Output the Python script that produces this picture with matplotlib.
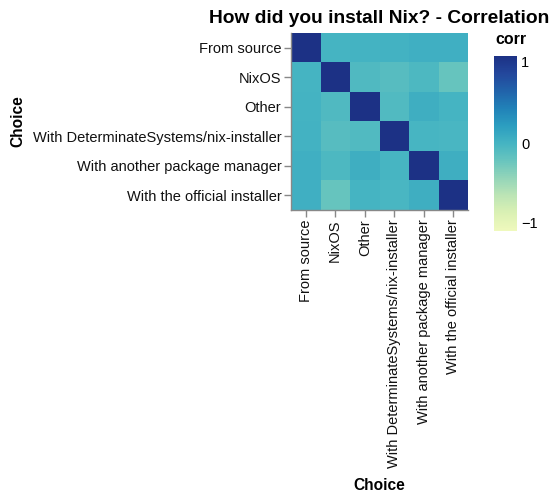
import matplotlib
matplotlib.use('Agg')
import matplotlib.pyplot as plt
import numpy as np
from matplotlib.colors import LinearSegmentedColormap

plt.rcParams['font.family'] = ['Liberation Sans', 'DejaVu Sans']

# Choices (same order on both axes)
choices = ['From source', 'NixOS', 'Other', 'With DeterminateSystems/nix-installer',
           'With another package manager', 'With the official installer']

# Correlation rows
row_from_source = [1.00, 0.00, 0.01, 0.02, 0.04, 0.04]
row_nixos       = [0.00, 1.00, -0.06, -0.10, -0.04, -0.18]
row_other       = [0.01, -0.06, 1.00, -0.07, 0.05, 0.00]
row_determinate = [0.02, -0.10, -0.07, 1.00, -0.01, -0.02]
row_another_pm  = [0.04, -0.04, 0.05, -0.01, 1.00, 0.05]
row_official    = [0.04, -0.18, 0.00, -0.02, 0.05, 1.00]

corr = np.array([row_from_source, row_nixos, row_other,
                 row_determinate, row_another_pm, row_official])

# vega "yellowgreenblue" scheme
ygb = ['#eff9bd', '#dbf1b4', '#bde5b5', '#94d5b9', '#69c5be', '#45b4c2',
       '#2c9ec0', '#2182b8', '#2163aa', '#23479c', '#1c3185']
cmap = LinearSegmentedColormap.from_list('yellowgreenblue', ygb)

fig = plt.figure(figsize=(5.57, 5.0), dpi=100)
ax = fig.add_axes([291/557, 1 - 210/500, 177/557, 177/500])

n = len(choices)
mesh = ax.pcolormesh(np.arange(n + 1), np.arange(n + 1), corr, cmap=cmap,
                     vmin=-1, vmax=1)
ax.set_xlim(0, n)
ax.set_ylim(n, 0)

ax.set_xticks(np.arange(n) + 0.5)
ax.set_yticks(np.arange(n) + 0.5)
ax.set_xticklabels(choices, rotation=90, fontsize=10.5, color='#111111')
ax.set_yticklabels(choices, fontsize=10.5, color='#111111')
ax.tick_params(axis='both', length=5, width=1, color='#888888', pad=2)

for s in ['top', 'right']:
    ax.spines[s].set_visible(False)
for s in ['left', 'bottom']:
    ax.spines[s].set_color('#888888')
    ax.spines[s].set_linewidth(1)

ax.set_xlabel('Choice', fontsize=11.2, fontweight='bold', labelpad=7)
ax.set_ylabel('Choice', fontsize=11.2, fontweight='bold', labelpad=5)
ax.set_title('How did you install Nix? - Correlation', fontsize=13.8,
             fontweight='bold', pad=7)

# Colour legend
cax = fig.add_axes([494/557, 1 - 231/500, 23/557, 175/500])
cb = fig.colorbar(mesh, cax=cax, ticks=[-1, 0, 1])
cb.outline.set_visible(False)
cb.ax.set_yticklabels(['\u22121', '0', '1'], fontsize=10.5)
cb.ax.tick_params(length=0, pad=3)
# keep end labels inside the gradient, like vega does
lbls = cb.ax.get_yticklabels()
lbls[0].set_va('bottom')
lbls[-1].set_va('top')
fig.text(495/557, 1 - 40/500, 'corr', fontsize=11.5, fontweight='bold',
         va='center', ha='left')

fig.savefig('out.png', dpi=100)
